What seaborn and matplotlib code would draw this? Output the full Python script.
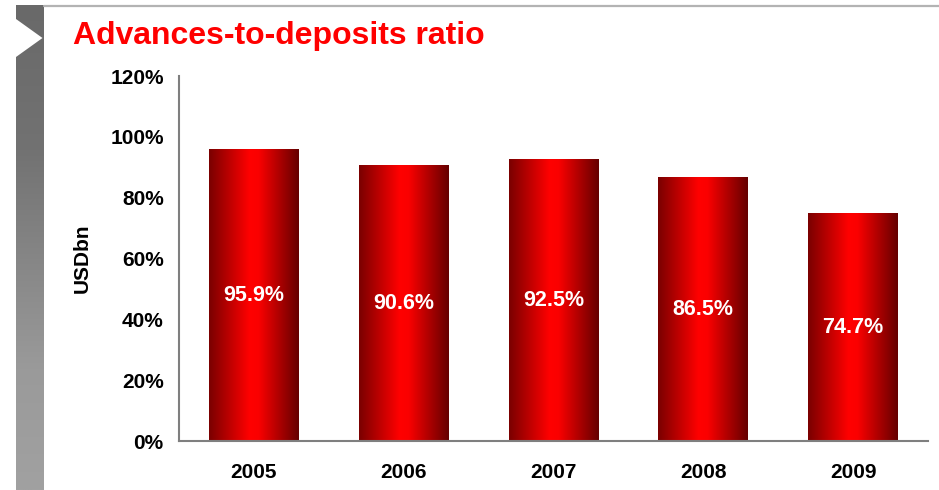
import numpy as np
import matplotlib
matplotlib.use("Agg")
import matplotlib.pyplot as plt
from matplotlib.colors import LinearSegmentedColormap
from matplotlib.patches import Polygon
import seaborn as sns

# Chart data
years = ["2005", "2006", "2007", "2008", "2009"]
ratio = [95.9, 90.6, 92.5, 86.5, 74.7]
y_ticks = [0, 20, 40, 60, 80, 100, 120]
title = "Advances-to-deposits ratio"
y_label = "USDbn"

sns.set_theme(style="white")
plt.rcParams["font.family"] = ["Liberation Sans", "DejaVu Sans"]
plt.rcParams["font.weight"] = "bold"

W, H = 939, 490
fig = plt.figure(figsize=(W / 100, H / 100), dpi=100, facecolor="white")

# Grey side bar with a white arrow notch
side = fig.add_axes([16 / W, 0, 28 / W, (H - 5) / H])
side.set_axis_off()
grad = np.linspace(0, 1, 256).reshape(-1, 1)
grey = LinearSegmentedColormap.from_list(
    "side", [(0.0, "#696969"), (0.3, "#727272"), (0.75, "#9a9a9a"), (1.0, "#a1a1a1")])
side.imshow(grad, cmap=grey, aspect="auto", extent=[0, 28, H, 5])
side.set_xlim(0, 28)
side.set_ylim(H, 5)
side.add_patch(Polygon([(0, 19), (26.5, 38), (0, 57)], closed=True,
                       facecolor="white", edgecolor="none"))

# Thin grey rule across the top
fig.add_artist(plt.Line2D([44 / W, 1], [1 - 5.8 / H, 1 - 5.8 / H],
                          color="#b3b3b3", lw=1.6, transform=fig.transFigure))

fig.text(73 / W, 1 - 36 / H, title, color="#ff0000", fontsize=23,
         fontweight="bold", ha="left", va="center")

ax = fig.add_axes([179 / W, 1 - 441 / H, (928 - 179) / W, (441 - 76) / H])
sns.barplot(x=years, y=ratio, width=0.6, ax=ax, color="red", saturation=1)

# Cylinder-like horizontal shading inside each bar
bar_cmap = LinearSegmentedColormap.from_list(
    "bar", [(0.0, "#7a0000"), (0.45, "#ff0000"), (0.55, "#fb0000"), (1.0, "#650000")])
hgrad = np.linspace(0, 1, 256).reshape(1, -1)
for patch, v in zip(ax.patches, ratio):
    x0, w, h = patch.get_x(), patch.get_width(), patch.get_height()
    ax.imshow(hgrad, cmap=bar_cmap, aspect="auto",
              extent=[x0, x0 + w, 0, h], zorder=2)
    patch.set_facecolor("none")
    patch.set_edgecolor("none")
    ax.text(x0 + w / 2, h / 2, f"{v}%", color="white", fontsize=15.5,
            fontweight="bold", ha="center", va="center", zorder=3)

ax.set_xlim(-0.5, 4.5)
ax.set_ylim(0, 120)
ax.set_yticks(y_ticks)
ax.set_yticklabels([f"{t}%" for t in y_ticks])
ax.tick_params(axis="both", length=0, labelsize=15, colors="black")
ax.tick_params(axis="y", pad=11)
ax.tick_params(axis="x", pad=16)
for lab in ax.get_xticklabels() + ax.get_yticklabels():
    lab.set_fontweight("bold")

for s in ["top", "right"]:
    ax.spines[s].set_visible(False)
for s in ["left", "bottom"]:
    ax.spines[s].set_color("#7f7f7f")
    ax.spines[s].set_linewidth(1.5)
    ax.spines[s].set_zorder(4)

ax.set_xlabel("")
ax.set_ylabel(y_label, fontsize=15, fontweight="bold", color="black")
ax.yaxis.set_label_coords(-0.117, 0.5)
ax.set_facecolor("white")

fig.savefig("out.png", dpi=100, facecolor="white")
